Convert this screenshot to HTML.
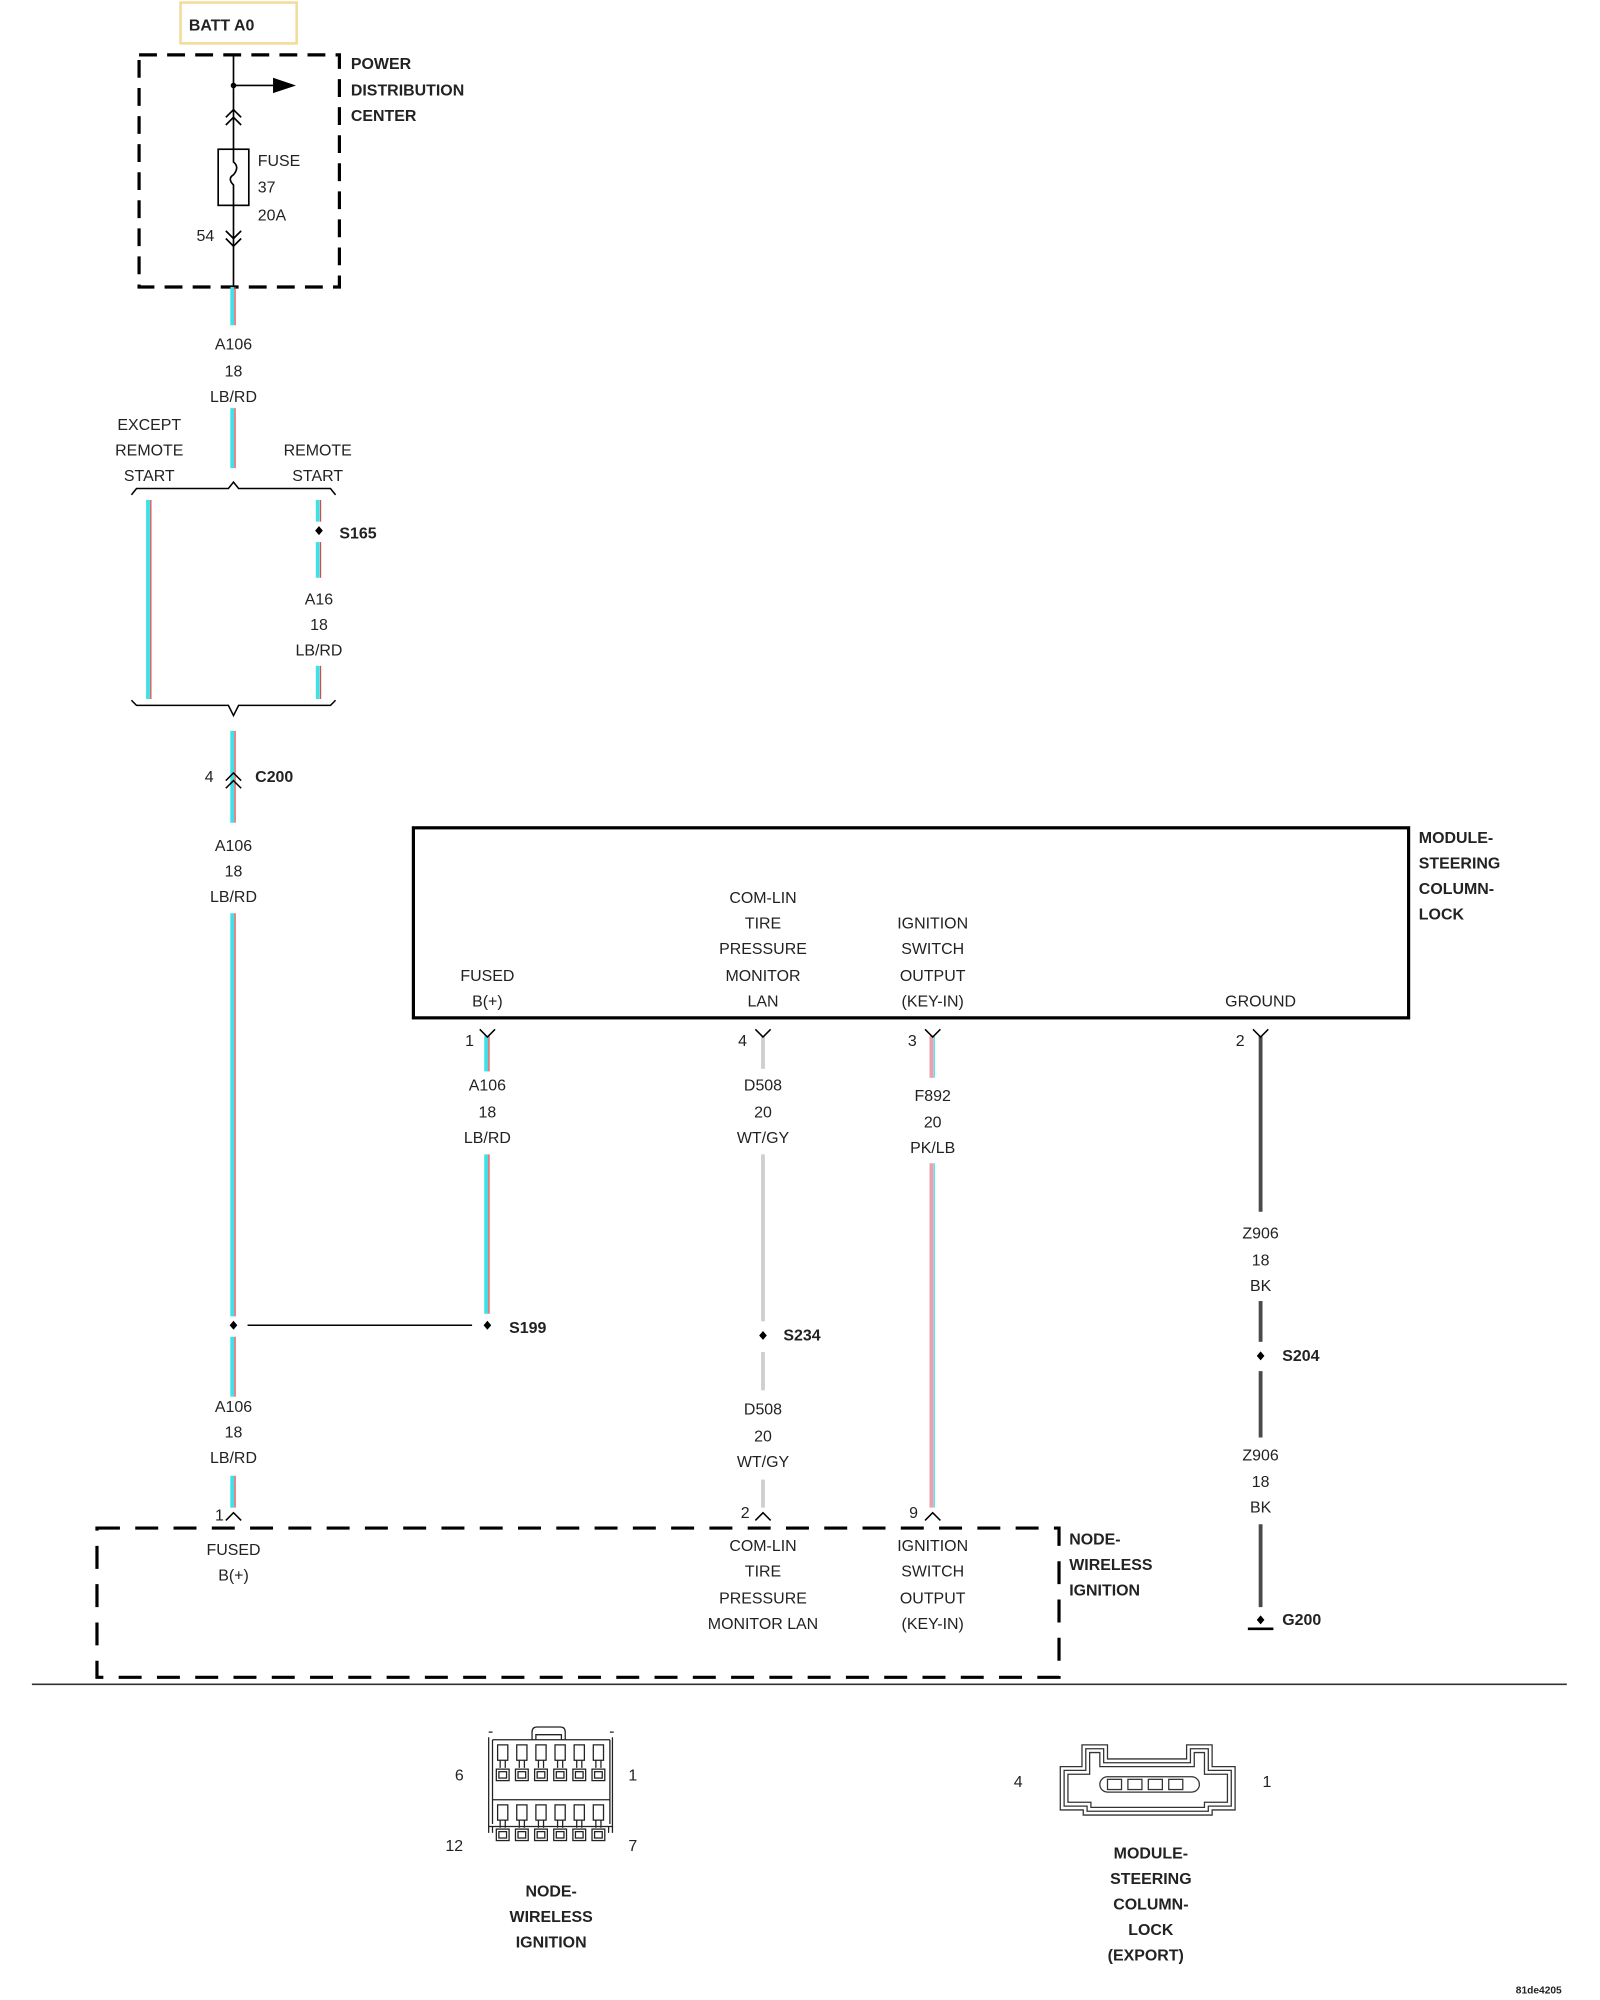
<!DOCTYPE html>
<html><head><meta charset="utf-8"><style>
html,body{margin:0;padding:0;background:#fff;width:1600px;height:2000px;overflow:hidden}
svg{display:block}
text{font-family:"Liberation Sans",Arial,sans-serif;font-size:12.5px;fill:#222;text-anchor:middle}
.b{font-weight:bold;text-anchor:start}
.l{text-anchor:start}
.bc{font-weight:bold}
</style></head><body>
<svg width="1600" height="2000" viewBox="0 0 1254 1568" preserveAspectRatio="none" xmlns="http://www.w3.org/2000/svg">
<defs>
<g id="dot"><path d="M0,-3.5 L3,0 L0,3.5 L-3,0Z" fill="#000"/></g>
</defs>
<rect x="141.5" y="2" width="91" height="32" fill="none" stroke="#f2dc9a" stroke-width="2"/>
<text x="148" y="24" class="b">BATT A0</text>
<rect x="109" y="43" width="157" height="182" fill="none" stroke="#000" stroke-width="2.5" stroke-dasharray="14,8"/>
<text x="275" y="54" class="b">POWER</text>
<text x="275" y="75" class="b">DISTRIBUTION</text>
<text x="275" y="95" class="b">CENTER</text>
<g stroke="#000" stroke-width="1.3" fill="none">
<line x1="183" y1="43" x2="183" y2="117"/>
<line x1="183" y1="161" x2="183" y2="225"/>
<line x1="183" y1="67" x2="216" y2="67"/>
<rect x="171" y="117" width="24" height="44"/>
<path d="M183,117 v10 q5,4 0,10 q-5,3 0,8 v16"/>
<path d="M177,92 l6,-6 l6,6 M177,98 l6,-6 l6,6"/>
<path d="M177,181 l6,6 l6,-6 M177,187 l6,6 l6,-6"/>
</g>
<circle cx="183" cy="67" r="2.2"/>
<path d="M214,61 L232,67 L214,73Z" fill="#000"/>
<text x="202" y="130" class="l">FUSE</text>
<text x="202" y="151" class="l">37</text>
<text x="202" y="173" class="l">20A</text>
<text x="161" y="189">54</text>

<g stroke="#3fe0e6" stroke-width="3">
<line x1="182" y1="225" x2="182" y2="255"/>
<line x1="182" y1="320" x2="182" y2="367"/>
<line x1="116" y1="392" x2="116" y2="548"/>
<line x1="249" y1="392" x2="249" y2="409"/>
<line x1="249" y1="425" x2="249" y2="453"/>
<line x1="249" y1="522" x2="249" y2="548"/>
<line x1="182" y1="573" x2="182" y2="645"/>
<line x1="182" y1="716" x2="182" y2="1032"/>
<line x1="182" y1="1048" x2="182" y2="1095"/>
<line x1="182" y1="1157" x2="182" y2="1182"/>
<line x1="381" y1="812" x2="381" y2="840"/>
<line x1="381" y1="905" x2="381" y2="1030"/>
</g>
<g stroke="#d84848" stroke-width="1">
<line x1="184.2" y1="225" x2="184.2" y2="255"/>
<line x1="184.2" y1="320" x2="184.2" y2="367"/>
<line x1="118.2" y1="392" x2="118.2" y2="548"/>
<line x1="251.2" y1="392" x2="251.2" y2="409"/>
<line x1="251.2" y1="425" x2="251.2" y2="453"/>
<line x1="251.2" y1="522" x2="251.2" y2="548"/>
<line x1="184.2" y1="573" x2="184.2" y2="645"/>
<line x1="184.2" y1="716" x2="184.2" y2="1032"/>
<line x1="184.2" y1="1048" x2="184.2" y2="1095"/>
<line x1="184.2" y1="1157" x2="184.2" y2="1182"/>
<line x1="383.2" y1="812" x2="383.2" y2="840"/>
<line x1="383.2" y1="905" x2="383.2" y2="1030"/>
</g>
<g stroke="#ee9fae" stroke-width="3">
<line x1="730" y1="812" x2="730" y2="845"/>
<line x1="730" y1="912" x2="730" y2="1182"/>
</g>
<g stroke="#3fe0e6" stroke-width="1">
<line x1="732.2" y1="812" x2="732.2" y2="845"/>
<line x1="732.2" y1="912" x2="732.2" y2="1182"/>
</g>
<g stroke="#cfcfcf" stroke-width="3">
<line x1="598" y1="812" x2="598" y2="838"/>
<line x1="598" y1="905" x2="598" y2="1036"/>
<line x1="598" y1="1060" x2="598" y2="1090"/>
<line x1="598" y1="1160" x2="598" y2="1182"/>
</g>
<g stroke="#4a4a4a" stroke-width="3">
<line x1="988" y1="812" x2="988" y2="950"/>
<line x1="988" y1="1020" x2="988" y2="1052"/>
<line x1="988" y1="1075" x2="988" y2="1127"/>
<line x1="988" y1="1195" x2="988" y2="1260"/>
</g>

<text x="183" y="274">A106</text>
<text x="183" y="295">18</text>
<text x="183" y="315">LB/RD</text>
<text x="117" y="337">EXCEPT</text>
<text x="117" y="357">REMOTE</text>
<text x="117" y="377">START</text>
<text x="249" y="357">REMOTE</text>
<text x="249" y="377">START</text>
<g stroke="#000" stroke-width="1.2" fill="none">
<path d="M103,388 l4,-5 h72 l4,-5 l4,5 h72 l4,5"/>
<path d="M103,549 l4,4 h72 l4,8 l4,-8 h72 l4,-4"/>
<path d="M177,612 l6,-6 l6,6 M177,618 l6,-6 l6,6"/>
<line x1="194" y1="1039" x2="370" y2="1039"/>
</g>
<use href="#dot" x="250" y="416"/>
<text x="266" y="422" class="b">S165</text>
<text x="250" y="474">A16</text>
<text x="250" y="494">18</text>
<text x="250" y="514">LB/RD</text>
<text x="164" y="613">4</text>
<text x="200" y="613" class="b">C200</text>
<text x="183" y="667">A106</text>
<text x="183" y="687">18</text>
<text x="183" y="707">LB/RD</text>
<use href="#dot" x="183" y="1039"/>
<use href="#dot" x="382" y="1039"/>
<text x="399" y="1045" class="b">S199</text>
<text x="183" y="1107">A106</text>
<text x="183" y="1127">18</text>
<text x="183" y="1147">LB/RD</text>

<rect x="324" y="649" width="780" height="149" fill="none" stroke="#000" stroke-width="2.5"/>
<text x="1112" y="661" class="b">MODULE-</text>
<text x="1112" y="681" class="b">STEERING</text>
<text x="1112" y="701" class="b">COLUMN-</text>
<text x="1112" y="721" class="b">LOCK</text>
<text x="382" y="769">FUSED</text>
<text x="382" y="789">B(+)</text>
<text x="598" y="708">COM-LIN</text>
<text x="598" y="728">TIRE</text>
<text x="598" y="748">PRESSURE</text>
<text x="598" y="769">MONITOR</text>
<text x="598" y="789">LAN</text>
<text x="731" y="728">IGNITION</text>
<text x="731" y="748">SWITCH</text>
<text x="731" y="769">OUTPUT</text>
<text x="731" y="789">(KEY-IN)</text>
<text x="988" y="789">GROUND</text>
<g stroke="#000" stroke-width="1.2" fill="none">
<path d="M376,807 l6,6 l6,-6"/>
<path d="M592,807 l6,6 l6,-6"/>
<path d="M725,807 l6,6 l6,-6"/>
<path d="M982,807 l6,6 l6,-6"/>
<path d="M177,1192 l6,-6 l6,6"/>
<path d="M592,1192 l6,-6 l6,6"/>
<path d="M725,1192 l6,-6 l6,6"/>
</g>
<text x="368" y="820">1</text>
<text x="582" y="820">4</text>
<text x="715" y="820">3</text>
<text x="972" y="820">2</text>
<text x="382" y="855">A106</text>
<text x="382" y="876">18</text>
<text x="382" y="896">LB/RD</text>
<text x="598" y="855">D508</text>
<text x="598" y="876">20</text>
<text x="598" y="896">WT/GY</text>
<text x="731" y="863">F892</text>
<text x="731" y="884">20</text>
<text x="731" y="904">PK/LB</text>
<text x="988" y="971">Z906</text>
<text x="988" y="992">18</text>
<text x="988" y="1012">BK</text>
<use href="#dot" x="598" y="1047"/>
<text x="614" y="1051" class="b">S234</text>
<use href="#dot" x="988" y="1063"/>
<text x="1005" y="1067" class="b">S204</text>
<text x="598" y="1109">D508</text>
<text x="598" y="1130">20</text>
<text x="598" y="1150">WT/GY</text>
<text x="988" y="1145">Z906</text>
<text x="988" y="1166">18</text>
<text x="988" y="1186">BK</text>
<use href="#dot" x="988" y="1270"/>
<line x1="978" y1="1277" x2="998" y2="1277" stroke="#000" stroke-width="2"/>
<text x="1005" y="1274" class="b">G200</text>
<text x="172" y="1192">1</text>
<text x="584" y="1190">2</text>
<text x="716" y="1190">9</text>

<rect x="76" y="1198" width="754" height="117" fill="none" stroke="#000" stroke-width="2.5" stroke-dasharray="18,12"/>
<text x="838" y="1211" class="b">NODE-</text>
<text x="838" y="1231" class="b">WIRELESS</text>
<text x="838" y="1251" class="b">IGNITION</text>
<text x="183" y="1219">FUSED</text>
<text x="183" y="1239">B(+)</text>
<text x="598" y="1216">COM-LIN</text>
<text x="598" y="1236">TIRE</text>
<text x="598" y="1257">PRESSURE</text>
<text x="598" y="1277">MONITOR LAN</text>
<text x="731" y="1216">IGNITION</text>
<text x="731" y="1236">SWITCH</text>
<text x="731" y="1257">OUTPUT</text>
<text x="731" y="1277">(KEY-IN)</text>
<line x1="25" y1="1320.5" x2="1228" y2="1320.5" stroke="#333" stroke-width="1.3"/>

<g stroke="#222" stroke-width="1" fill="none">
<path d="M383,1362 v70 h97 v-70"/>
<path d="M383,1432 v5 M480,1432 v5 M386,1432 v5 M477,1432 v5"/>
<path d="M386,1364 h92 M386,1364 v66 M478,1364 v66"/>
<path d="M386,1411 h92"/>
<path d="M417,1364 v-6 q0,-4 4,-4 h18 q4,0 4,4 v6"/>
<path d="M420,1364 v-4 h20 v4"/>
<path d="M386,1358 h-3 M478,1358 h3"/>
</g>
<g stroke="#222" stroke-width="1" fill="none" id="pins">
<g id="p"><path d="M390,1380 h8 v-12 h-8z M392,1380 v6 M396,1380 v6"/><rect x="389" y="1387" width="10" height="9"/><rect x="391" y="1389" width="6" height="5"/></g>
<use href="#p" x="15"/><use href="#p" x="30"/><use href="#p" x="45"/><use href="#p" x="60"/><use href="#p" x="75"/>
</g>
<use href="#pins" y="47"/>
<text x="360" y="1396">6</text>
<text x="496" y="1396">1</text>
<text x="356" y="1451">12</text>
<text x="496" y="1451">7</text>
<text x="432" y="1487" class="bc">NODE-</text>
<text x="432" y="1507" class="bc">WIRELESS</text>
<text x="432" y="1527" class="bc">IGNITION</text>

<g stroke="#333" stroke-width="1" fill="none">
<path d="M831,1385 h17 v-17 h20 v11 h62 v-11 h20 v17 h18 v34 h-18 v4 h-101 v-4 h-18 z"/>
<path d="M834,1388 h17 v-17 h14 v11 h68 v-11 h14 v17 h18 v28 h-18 v4 h-95 v-4 h-18 z"/>
<path d="M837,1391 h17 v-17 h8 v11 h74 v-11 h8 v17 h18 v22 h-18 v4 h-89 v-4 h-18 z"/>
<rect x="862" y="1393" width="78" height="12" rx="6"/>
<rect x="868" y="1395" width="11" height="8"/><rect x="884" y="1395" width="11" height="8"/><rect x="900" y="1395" width="11" height="8"/><rect x="916" y="1395" width="11" height="8"/>
</g>
<text x="798" y="1401">4</text>
<text x="993" y="1401">1</text>
<text x="902" y="1457" class="bc">MODULE-</text>
<text x="902" y="1477" class="bc">STEERING</text>
<text x="902" y="1497" class="bc">COLUMN-</text>
<text x="902" y="1517" class="bc">LOCK</text>
<text x="898" y="1537" class="bc">(EXPORT)</text>
<text x="1206" y="1563" class="bc" style="font-size:8px">81de4205</text>
</svg>
</body></html>
